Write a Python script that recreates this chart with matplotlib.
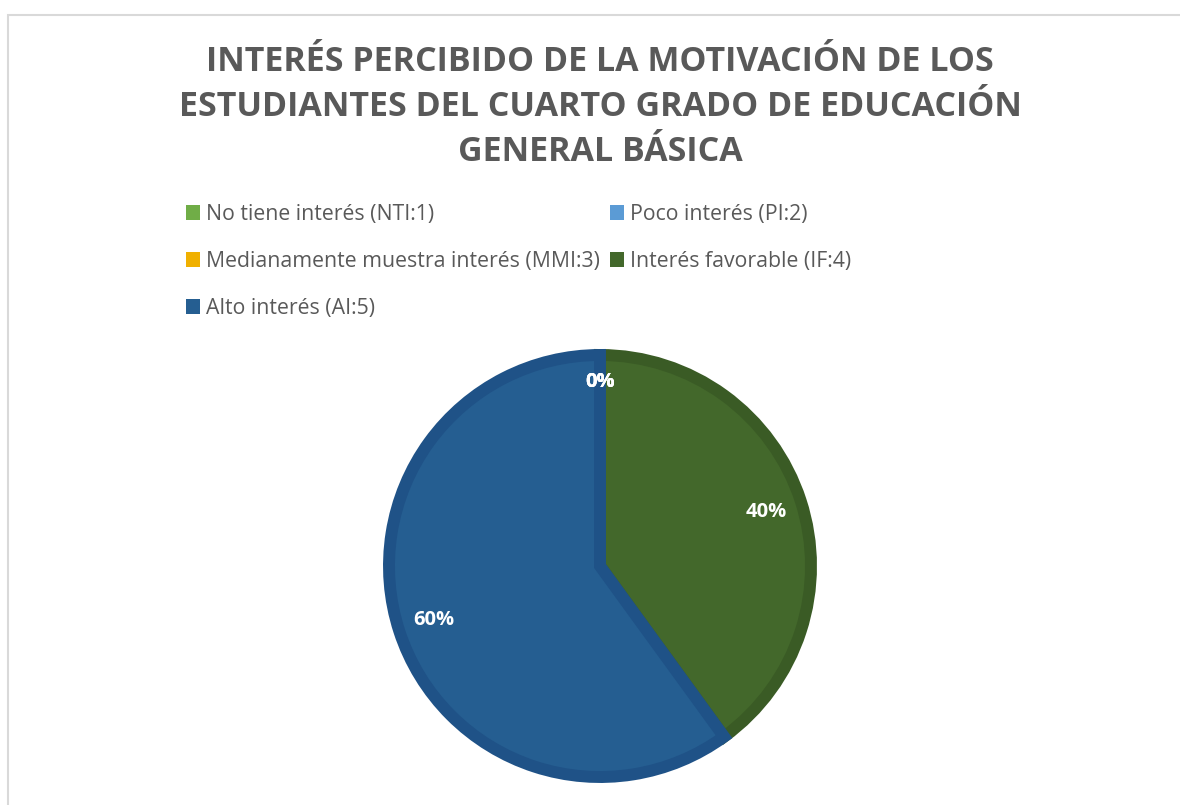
import matplotlib.pyplot as plt
from matplotlib.patches import Patch, Rectangle

categorias = ['No tiene interés (NTI:1)', 'Poco interés (PI:2)',
              'Medianamente muestra interés (MMI:3)', 'Interés favorable (IF:4)',
              'Alto interés (AI:5)']
porcentajes = [0, 0, 0, 40, 60]
colores = ['#70AD47', '#5B9BD5', '#F0B000', '#43682B', '#255E91']
bordes = ['#5E9339', '#4C85B8', '#D9A300', '#3A5B25', '#1F5287']
titulo = ('INTERÉS PERCIBIDO DE LA MOTIVACIÓN DE LOS\n'
          'ESTUDIANTES DEL CUARTO GRADO DE EDUCACIÓN\n'
          'GENERAL BÁSICA')

fig = plt.figure(figsize=(11.8, 8.05), dpi=100)
fig.patches.append(Rectangle((8 / 1180, -0.05), 1.2, 1 - 15 / 805 + 0.05,
                             transform=fig.transFigure, fill=False,
                             edgecolor='#D9D9D9', lw=1.5))

fig.text(600 / 1180, 1 - 107 / 805, titulo, ha='center', va='center',
         fontsize=24.5, fontweight='bold', color='#595959',
         family='Open Sans', linespacing=1.41)

# pastel (borde oscuro hacia dentro: radio reducido + linea gruesa)
ax = fig.add_axes([383 / 1180, 22 / 805, 434 / 1180, 434 / 805])
cunas, _, autotextos = ax.pie(porcentajes, colors=colores, startangle=90,
                              counterclock=False, autopct='%1.0f%%',
                              pctdistance=0.83, radius=1 - 6 / 217,
                              textprops=dict(color='white', fontsize=14.5,
                                             fontweight='bold', family='Open Sans'))
for w, b in zip(cunas, bordes):
    w.set_edgecolor(b)
    w.set_linewidth(8.6)
    w.set_joinstyle('miter')
# las etiquetas de 0% van un poco más afuera
for t, v in zip(autotextos, porcentajes):
    if v == 0:
        x, y = t.get_position()
        t.set_position((x * 1.05, y * 1.05))
ax.set_xlim(-1, 1)
ax.set_ylim(-1, 1)
ax.set_aspect('equal')
ax.axis('off')

# leyenda (orden por filas)
orden = [0, 2, 4, 1, 3]
handles = [Patch(facecolor=colores[i], edgecolor='none') for i in orden]
etiquetas = [categorias[i] for i in orden]
fig.legend(handles, etiquetas, ncol=2, loc='upper left',
           bbox_to_anchor=(186 / 1180, 1 - 204 / 805), frameon=False,
           prop=dict(family='Open Sans', size=15.3), labelcolor='#595959',
           handlelength=0.66, handleheight=0.66, handletextpad=0.3,
           columnspacing=0.45, labelspacing=1.22, borderpad=0, borderaxespad=0)

plt.savefig('out.png', dpi=100)
